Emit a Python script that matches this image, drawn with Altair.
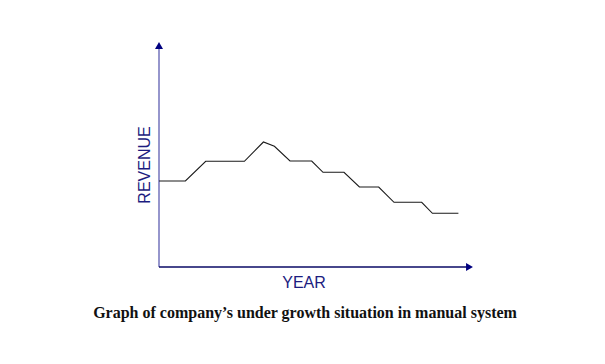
import altair as alt
import pandas as pd

# Values (arbitrary units: year along x, revenue along y)
year = [0, 26.4, 46.7, 85.4, 104.4, 115.4, 131, 152.7, 164, 185, 200.4, 219.7, 235, 262.7, 273.4, 299.4]
revenue = [86, 86, 105.7, 105.7, 125, 120.7, 106, 106, 94.7, 94.7, 80, 80, 64.7, 64.7, 53.7, 53.7]

X_MAX = 314
Y_MAX = 225

df = pd.DataFrame({"year": year, "revenue": revenue})

xs = alt.Scale(domain=[0, X_MAX], nice=False, zero=False)
ys = alt.Scale(domain=[0, Y_MAX], nice=False, zero=False)

line = alt.Chart(df).mark_line(color="#1a1a1a", strokeWidth=1.1).encode(
    x=alt.X("year:Q", scale=xs, axis=None),
    y=alt.Y("revenue:Q", scale=ys, axis=None),
)

axes_df = pd.DataFrame({
    "x": [0, 0], "x2": [0, X_MAX - 6],
    "y": [0, 0], "y2": [Y_MAX - 6, 0],
    "c": ["#7c7cc0", "#0a0a66"],
})
axes = alt.Chart(axes_df).mark_rule(strokeWidth=1.6).encode(
    x=alt.X("x:Q", scale=xs, axis=None), x2="x2:Q",
    y=alt.Y("y:Q", scale=ys, axis=None), y2="y2:Q",
    color=alt.Color("c:N", scale=None),
)

arrow_up = alt.Chart(pd.DataFrame({"x": [0], "y": [Y_MAX - 3.5]})).mark_point(
    shape="triangle-up", size=64, filled=True, color="#000080", opacity=1
).encode(x=alt.X("x:Q", scale=xs, axis=None), y=alt.Y("y:Q", scale=ys, axis=None))

arrow_right = alt.Chart(pd.DataFrame({"x": [X_MAX - 3.5], "y": [0]})).mark_point(
    shape="triangle-right", size=64, filled=True, color="#000080", opacity=1
).encode(x=alt.X("x:Q", scale=xs, axis=None), y=alt.Y("y:Q", scale=ys, axis=None))

revenue_label = alt.Chart(pd.DataFrame({"t": ["REVENUE"]})).mark_text(
    font="Liberation Sans", fontSize=16, color="#1c1c80", angle=270,
    align="center", baseline="middle"
).encode(text="t:N", x=alt.value(-14), y=alt.value(123))

year_label = alt.Chart(pd.DataFrame({"t": ["YEAR"]})).mark_text(
    font="Liberation Sans", fontSize=16, color="#1c1c80",
    align="center", baseline="alphabetic"
).encode(text="t:N", x=alt.value(145), y=alt.value(246))

caption = alt.Chart(pd.DataFrame({"t": ["Graph of company\u2019s under growth situation in manual system"]})).mark_text(
    font="Liberation Serif", fontSize=16, fontWeight="bold", color="#111111",
    align="center", baseline="alphabetic"
).encode(text="t:N", x=alt.value(146), y=alt.value(276))

chart = alt.layer(axes, arrow_up, arrow_right, line, revenue_label, year_label, caption).properties(
    width=X_MAX, height=Y_MAX,
    autosize=alt.AutoSizeParams(type="none"),
    padding={"left": 151, "top": 34, "right": 124, "bottom": 89},
    background="white",
).configure_view(stroke=None)

chart.save("out.html", embed_options={"renderer": "svg", "actions": False})
